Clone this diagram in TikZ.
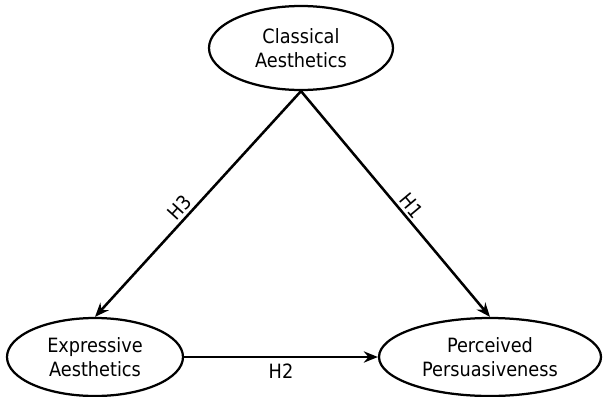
\documentclass[tikz,border=0pt]{standalone}
\usepackage{fontspec}
\setmainfont{DejaVu Sans Condensed}
\usetikzlibrary{arrows.meta,positioning,shapes.geometric,calc}

\begin{document}
\begin{tikzpicture}[scale=1.0, every node/.style={font=\fontsize{14}{17.5}\selectfont},
		construct/.style={draw, ellipse, line width=1.6pt, inner sep=0pt, align=center},
		path/.style={-{Stealth[length=10pt,width=8pt]}, line width=1.8pt}]
				\useasboundingbox (0,0) rectangle (15.075,-9.9);
				\node[construct, minimum width=4.6cm, minimum height=2.1cm] (classical) at (7.525,-1.2) {Classical\\Aesthetics};
				\node[construct, minimum width=4.4cm, minimum height=1.95cm] (expressive) at (2.375,-8.925) {Expressive\\Aesthetics};
				\node[construct, minimum width=5.55cm, minimum height=1.95cm] (persuasive) at (12.25,-8.925) {Perceived\\Persuasiveness};
				\draw[path] (classical.south) -- node[pos=0.54, sloped, above, inner sep=2pt] {H1} (persuasive.north);
				\draw[path] (classical.south) -- node[pos=0.55, sloped, above, inner sep=2pt] {H3} (expressive.north);
				\draw[path] (expressive.east) -- node[below, inner sep=4pt] {H2} (persuasive.west);
			\end{tikzpicture}
\end{document}
